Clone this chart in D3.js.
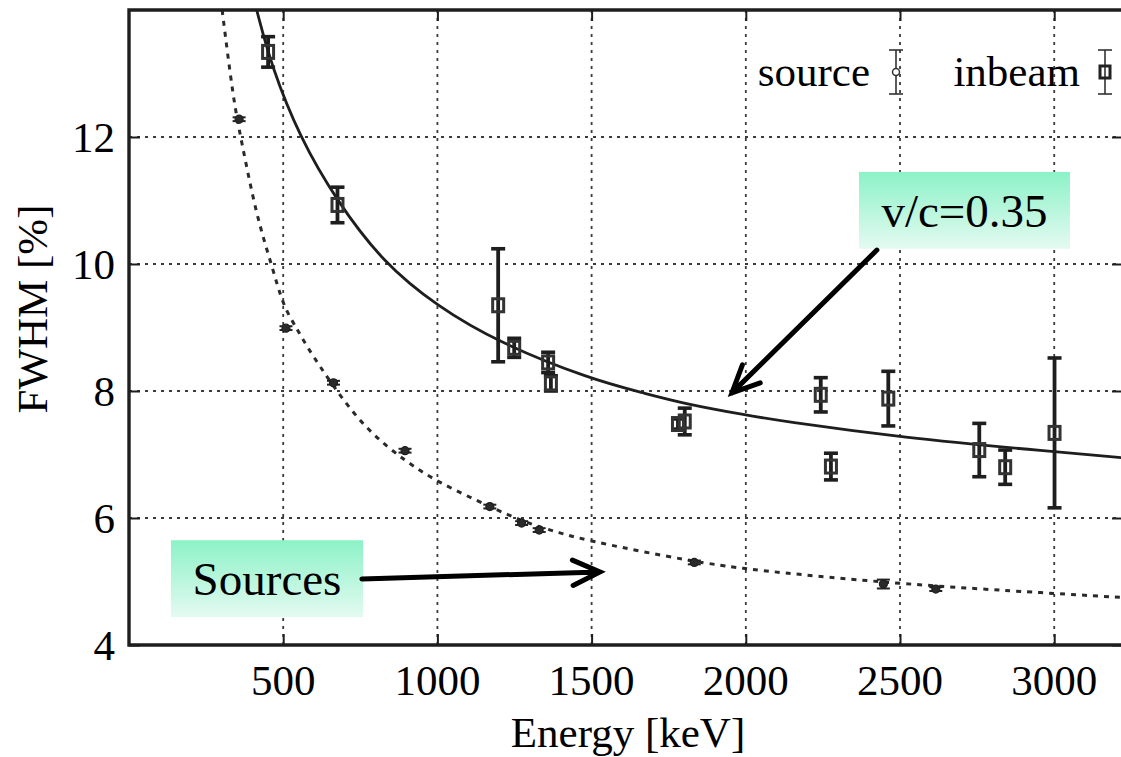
<!DOCTYPE html>
<html>
<head>
<meta charset="utf-8">
<script src="https://cdn.jsdelivr.net/npm/d3@7"></script>
<style>
  html, body { margin: 0; padding: 0; background: #ffffff; }
  svg { display: block; font-family: "Liberation Serif", "Times New Roman", Times, serif; }
</style>
</head>
<body>
<svg id="chart" width="1121" height="757"></svg>
<script>
// ---------- data ----------
const xTickValues = [500, 1000, 1500, 2000, 2500, 3000];
const yTickValues = [4, 6, 8, 10, 12];
const yGridValues = [6, 8, 10, 12];

// source measurements: energy [keV], FWHM [%], error
const sourceEnergy = [357, 509, 663, 895, 1170, 1273, 1330, 1833, 2446, 2616];
const sourceFwhm   = [12.28, 8.99, 8.13, 7.06, 6.18, 5.92, 5.81, 5.30, 4.96, 4.88];
const sourceErr    = [0.03, 0.03, 0.03, 0.03, 0.03, 0.03, 0.03, 0.03, 0.07, 0.03];

// in-beam measurements
const inbeamEnergy = [451, 676, 1197, 1249, 1359, 1368, 1780, 1802, 2243, 2276, 2462, 2757, 2841, 3001];
const inbeamFwhm   = [13.34, 10.93, 9.35, 8.68, 8.45, 8.12, 7.48, 7.52, 7.94, 6.81, 7.88, 7.07, 6.80, 7.34];
const inbeamErr    = [0.24, 0.28, 0.89, 0.15, 0.16, 0.12, 0.08, 0.21, 0.27, 0.21, 0.43, 0.42, 0.27, 1.18];

// fitted curves
const fitSourceE = [302, 338, 362, 414, 462, 500, 544, 571, 665, 771, 900, 1003, 1170, 1273, 1398, 1500, 1830, 2002, 2111, 2500, 3003, 3217];
const fitSourceF = [14.0, 12.6, 12.0, 10.74, 10.0, 9.33, 8.99, 8.74, 8.05, 7.38, 6.88, 6.56, 6.18, 5.95, 5.76, 5.63, 5.31, 5.20, 5.14, 4.96, 4.81, 4.75];
const fitBeamE = [414, 462, 555, 673, 822, 1000, 1199, 1500, 1668, 1800, 2002, 2111, 2500, 3003, 3217];
const fitBeamF = [14.0, 13.11, 11.98, 11.0, 10.03, 9.33, 8.76, 8.18, 7.97, 7.80, 7.62, 7.53, 7.27, 7.04, 6.95];

const legendLabels = ["source", "inbeam"];

// annotations (positions in data units)
const annotations = [
  { text: "v/c=0.35", box: [2367, 3051, 11.45, 10.24], from: [2425, 10.22], to: [1955, 7.97] },
  { text: "Sources",  box: [136, 759, 5.65, 4.44],    from: [755, 5.04],   to: [1527, 5.15] }
];

// ---------- layout ----------
const svg = d3.select("#chart");
const L = 129, R = 1123, T = 10, B = 645;
const x = d3.scaleLinear().domain([0, 3223]).range([L, R]);
const y = d3.scaleLinear().domain([4, 14]).range([B, T]);
const ink = "#1e1e1e";
const fontSize = 43;

const defs = svg.append("defs");
defs.append("clipPath").attr("id", "plotclip")
  .append("rect").attr("x", L).attr("y", T).attr("width", R - L).attr("height", B - T);
const grad = defs.append("linearGradient").attr("id", "mint")
  .attr("x1", 0).attr("y1", 0).attr("x2", 0).attr("y2", 1);
grad.append("stop").attr("offset", "0%").attr("stop-color", "#8cf2c7");
grad.append("stop").attr("offset", "100%").attr("stop-color", "#e4faf1");

// grid
const grid = svg.append("g");
grid.selectAll("line.vx").data(xTickValues).join("line")
  .attr("x1", d => x(d)).attr("x2", d => x(d)).attr("y1", B).attr("y2", T)
  .attr("stroke", "#3a3a3a").attr("stroke-width", 1.8).attr("stroke-dasharray", "3,5");
grid.selectAll("line.hy").data(yGridValues).join("line")
  .attr("x1", L).attr("x2", R).attr("y1", d => y(d)).attr("y2", d => y(d))
  .attr("stroke", "#3a3a3a").attr("stroke-width", 1.8).attr("stroke-dasharray", "3,5");

// axes with inner ticks
const axB = d3.axisBottom(x).tickValues(xTickValues).tickSize(-11).tickFormat("");
const axT = d3.axisTop(x).tickValues(xTickValues).tickSize(-11).tickFormat("");
const axL = d3.axisLeft(y).tickValues(yTickValues).tickSize(-11).tickFormat("");
const axR = d3.axisRight(y).tickValues(yTickValues).tickSize(-11).tickFormat("");
function styleAxis(g) {
  g.select(".domain").remove();
  g.selectAll(".tick line").attr("stroke", ink).attr("stroke-width", 2);
}
svg.append("g").attr("transform", `translate(0,${B})`).call(axB).call(styleAxis);
svg.append("g").attr("transform", `translate(0,${T})`).call(axT).call(styleAxis);
svg.append("g").attr("transform", `translate(${L},0)`).call(axL).call(styleAxis);
svg.append("g").attr("transform", `translate(${R},0)`).call(axR).call(styleAxis);

// tick labels
svg.append("g").selectAll("text").data(xTickValues).join("text")
  .attr("x", d => x(d)).attr("y", 695).attr("text-anchor", "middle")
  .attr("font-size", fontSize).attr("fill", "#000").text(d => d);
svg.append("g").selectAll("text").data(yTickValues).join("text")
  .attr("x", 115).attr("y", d => y(d)).attr("dy", "0.35em").attr("text-anchor", "end")
  .attr("font-size", fontSize).attr("fill", "#000").text(d => d);

// axis titles
svg.append("text").attr("x", 628).attr("y", 747).attr("text-anchor", "middle")
  .attr("font-size", fontSize).attr("fill", "#000").text("Energy [keV]");
svg.append("text").attr("transform", "translate(47,309) rotate(-90)").attr("text-anchor", "middle")
  .attr("font-size", fontSize).attr("fill", "#000").text("FWHM [%]");

// curves
const plot = svg.append("g").attr("clip-path", "url(#plotclip)");
const line = d3.line().x(d => x(d[0])).y(d => y(d[1])).curve(d3.curveBasis);
plot.append("path").datum(d3.zip(fitSourceE, fitSourceF)).attr("d", line)
  .attr("fill", "none").attr("stroke", "#2a2a2a").attr("stroke-width", 3).attr("stroke-dasharray", "5,6");
plot.append("path").datum(d3.zip(fitBeamE, fitBeamF)).attr("d", line)
  .attr("fill", "none").attr("stroke", ink).attr("stroke-width", 2.8);

// source points
const src = d3.zip(sourceEnergy, sourceFwhm, sourceErr);
const gs = plot.append("g");
gs.selectAll("line.eb").data(src).join("line")
  .attr("x1", d => x(d[0])).attr("x2", d => x(d[0]))
  .attr("y1", d => y(d[1] + d[2])).attr("y2", d => y(d[1] - d[2]))
  .attr("stroke", "#222").attr("stroke-width", 1.8);
gs.selectAll("line.ct").data(src).join("line")
  .attr("x1", d => x(d[0]) - 6.5).attr("x2", d => x(d[0]) + 6.5)
  .attr("y1", d => y(d[1] + d[2])).attr("y2", d => y(d[1] + d[2]))
  .attr("stroke", "#222").attr("stroke-width", 2);
gs.selectAll("line.cb").data(src).join("line")
  .attr("x1", d => x(d[0]) - 6.5).attr("x2", d => x(d[0]) + 6.5)
  .attr("y1", d => y(d[1] - d[2])).attr("y2", d => y(d[1] - d[2]))
  .attr("stroke", "#222").attr("stroke-width", 2);
gs.selectAll("circle").data(src).join("circle")
  .attr("cx", d => x(d[0])).attr("cy", d => y(d[1])).attr("r", 4)
  .attr("fill", "#2a2a2a").attr("stroke", "#1e1e1e").attr("stroke-width", 1.2);

// inbeam points
const inb = d3.zip(inbeamEnergy, inbeamFwhm, inbeamErr);
const gi = plot.append("g");
gi.selectAll("line.eb").data(inb).join("line")
  .attr("x1", d => x(d[0])).attr("x2", d => x(d[0]))
  .attr("y1", d => y(d[1] + d[2])).attr("y2", d => y(d[1] - d[2]))
  .attr("stroke", ink).attr("stroke-width", 3.8);
gi.selectAll("line.ct").data(inb).join("line")
  .attr("x1", d => x(d[0]) - 7).attr("x2", d => x(d[0]) + 7)
  .attr("y1", d => y(d[1] + d[2])).attr("y2", d => y(d[1] + d[2]))
  .attr("stroke", ink).attr("stroke-width", 3.6);
gi.selectAll("line.cb").data(inb).join("line")
  .attr("x1", d => x(d[0]) - 7).attr("x2", d => x(d[0]) + 7)
  .attr("y1", d => y(d[1] - d[2])).attr("y2", d => y(d[1] - d[2]))
  .attr("stroke", ink).attr("stroke-width", 3.6);
gi.selectAll("rect").data(inb).join("rect")
  .attr("x", d => x(d[0]) - 5.5).attr("y", d => y(d[1]) - 6.5)
  .attr("width", 11).attr("height", 13)
  .attr("fill", "none").attr("stroke", "#333").attr("stroke-width", 3);

// frame (left, top, bottom)
svg.append("path")
  .attr("d", `M${R},${T}H${L}V${B}H${R}`)
  .attr("fill", "none").attr("stroke", ink).attr("stroke-width", 3.4);

// legend
const lg = svg.append("g");
const legendX = [870, 1080], symX = [896, 1105];
lg.selectAll("text").data(legendLabels).join("text")
  .attr("x", (d, i) => legendX[i]).attr("y", 86).attr("text-anchor", "end")
  .attr("font-size", fontSize).attr("fill", "#000").text(d => d);
symX.forEach((sx, i) => {
  lg.append("line").attr("x1", sx).attr("x2", sx).attr("y1", 50).attr("y2", 94)
    .attr("stroke", "#333").attr("stroke-width", 1.6);
  lg.append("line").attr("x1", sx - 7).attr("x2", sx + 7).attr("y1", 50).attr("y2", 50)
    .attr("stroke", "#333").attr("stroke-width", 1.6);
  lg.append("line").attr("x1", sx - 7).attr("x2", sx + 7).attr("y1", 94).attr("y2", 94)
    .attr("stroke", "#333").attr("stroke-width", 1.6);
  if (i === 0) {
    lg.append("circle").attr("cx", sx).attr("cy", 72).attr("r", 3.5)
      .attr("fill", "#fff").attr("stroke", "#333").attr("stroke-width", 1.5);
  } else {
    lg.append("rect").attr("x", sx - 5).attr("y", 66).attr("width", 10).attr("height", 12)
      .attr("fill", "none").attr("stroke", "#222").attr("stroke-width", 3);
  }
});

// annotations
const ga = svg.append("g");
annotations.forEach(a => {
  const [e0, e1, f0, f1] = a.box;
  const bx = x(e0), bw = x(e1) - x(e0), by = y(f0), bh = y(f1) - y(f0);
  ga.append("rect").attr("x", bx).attr("y", by).attr("width", bw).attr("height", bh)
    .attr("fill", "url(#mint)");
  ga.append("text").attr("x", bx + bw / 2).attr("y", by + bh / 2).attr("dy", "0.35em")
    .attr("text-anchor", "middle").attr("font-size", 47).attr("fill", "#000").text(a.text);
  const x0 = x(a.from[0]), y0 = y(a.from[1]), x1 = x(a.to[0]), y1 = y(a.to[1]);
  const ang = Math.atan2(y0 - y1, x0 - x1), len = 30, spread = 25 * Math.PI / 180;
  const p = d3.path();
  p.moveTo(x0, y0); p.lineTo(x1, y1);
  p.moveTo(x1 + len * Math.cos(ang + spread), y1 + len * Math.sin(ang + spread));
  p.lineTo(x1, y1);
  p.lineTo(x1 + len * Math.cos(ang - spread), y1 + len * Math.sin(ang - spread));
  ga.append("path").attr("d", p.toString()).attr("fill", "none")
    .attr("stroke", "#000").attr("stroke-width", 5).attr("stroke-linecap", "round")
    .attr("stroke-linejoin", "miter");
});
</script>
</body>
</html>
